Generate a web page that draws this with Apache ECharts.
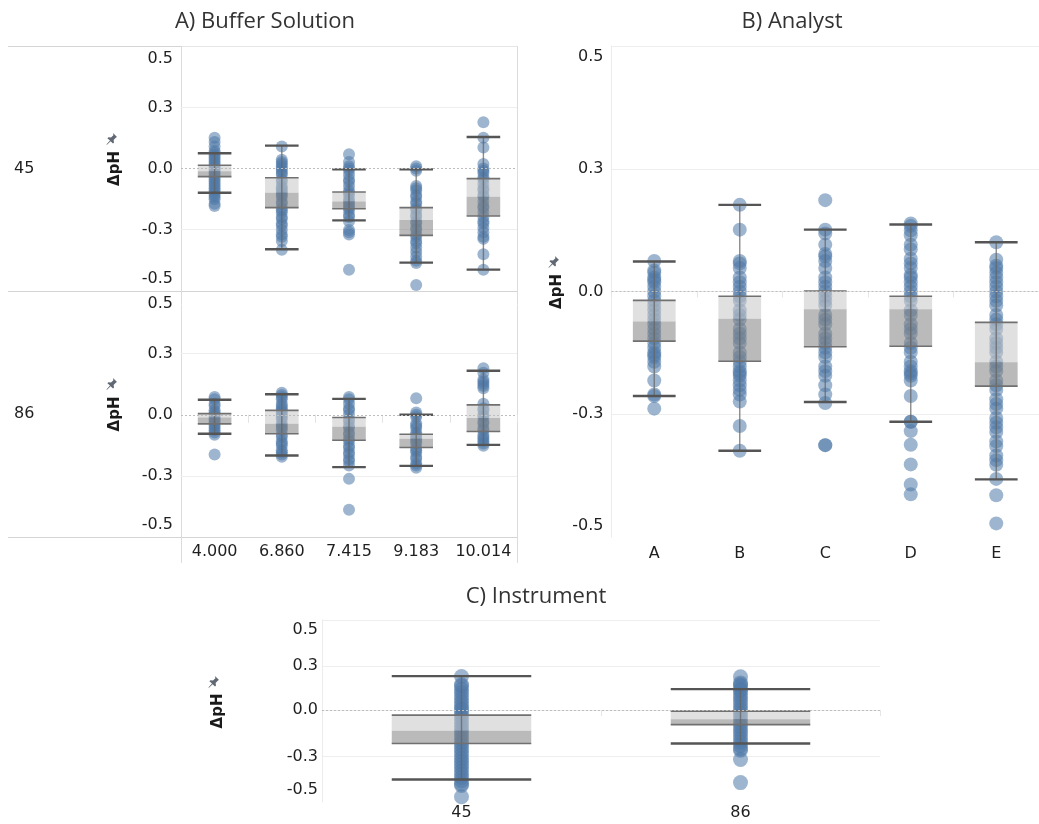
<!DOCTYPE html>
<html>
<head>
<meta charset="utf-8">
<script src="https://cdn.jsdelivr.net/npm/echarts@6/dist/echarts.min.js"></script>
<style>html,body{margin:0;padding:0;background:#fff}#c{width:1039px;height:824px}</style>
</head>
<body>
<div id="c"></div>
<script>
// ---------- categories ----------
const BUFFER_CATS = ['4.000', '6.860', '7.415', '9.183', '10.014'];
const ANALYST_CATS = ['A', 'B', 'C', 'D', 'E'];
const INSTRUMENT_CATS = ['45', '86'];
const ROW_LABELS = ['45', '86'];

// ---------- tick labels (the "0.3" gridlines sit at ~0.27 on the drawn scale) ----------
const TICK_LABELS = ['-0.5', '-0.3', '0.0', '0.3', '0.5'];
const TICK_VALUES_A = [-0.5, -0.277, 0, 0.277, 0.5];
const TICK_VALUES_B = [-0.5, -0.262, 0, 0.262, 0.5];
const TICK_VALUES_C = [-0.5, -0.29, 0, 0.277, 0.5];

// ---------- box statistics: [lower whisker, Q1, median, Q3, upper whisker] ----------
const BUFFER_45_BOX = [
  [-0.110, -0.037, -0.012, 0.015, 0.069],
  [-0.367, -0.178, -0.110, -0.042, 0.104],
  [-0.236, -0.183, -0.150, -0.107, -0.004],
  [-0.428, -0.304, -0.234, -0.178, -0.004],
  [-0.460, -0.216, -0.128, -0.046, 0.143]
];
const BUFFER_86_BOX = [
  [-0.086, -0.041, -0.012, 0.005, 0.068],
  [-0.184, -0.086, -0.041, 0.020, 0.093],
  [-0.237, -0.115, -0.054, -0.012, 0.072],
  [-0.231, -0.148, -0.109, -0.088, 0.000],
  [-0.136, -0.076, -0.015, 0.045, 0.199]
];
const ANALYST_BOX = [
  [-0.223, -0.106, -0.064, -0.019, 0.064],
  [-0.340, -0.149, -0.058, -0.010, 0.185],
  [-0.236, -0.118, -0.038, 0.001, 0.132],
  [-0.278, -0.117, -0.038, -0.010, 0.143],
  [-0.401, -0.202, -0.151, -0.066, 0.105]
];
const INSTRUMENT_BOX = [
  [-0.433, -0.208, -0.129, -0.031, 0.2125],
  [-0.208, -0.090, -0.056, -0.006, 0.131]
];

// ---------- individual ΔpH values ----------
const BUFFER_45_POINTS = [
  [0.14, 0.12, 0.10, 0.08, 0.07, 0.06, 0.05, 0.04, 0.03, 0.02, 0.01, 0.00, -0.01, -0.02, -0.03, -0.04, -0.05, -0.06, -0.07, -0.08, -0.09, -0.10, -0.11, -0.12, -0.13, -0.14, -0.16, -0.17],
  [0.10, 0.04, 0.03, 0.02, 0.01, 0.00, -0.01, -0.02, -0.03, -0.05, -0.06, -0.08, -0.09, -0.10, -0.11, -0.12, -0.13, -0.15, -0.16, -0.18, -0.19, -0.20, -0.22, -0.23, -0.25, -0.26, -0.28, -0.30, -0.31, -0.33, -0.37],
  [0.065, 0.03, 0.01, 0.00, -0.01, -0.03, -0.05, -0.06, -0.08, -0.10, -0.11, -0.12, -0.14, -0.15, -0.16, -0.17, -0.18, -0.19, -0.21, -0.22, -0.24, -0.28, -0.29, -0.30, -0.46],
  [0.01, 0.00, -0.01, -0.08, -0.09, -0.10, -0.12, -0.13, -0.15, -0.16, -0.18, -0.19, -0.21, -0.22, -0.24, -0.25, -0.27, -0.28, -0.30, -0.31, -0.33, -0.34, -0.36, -0.38, -0.40, -0.42, -0.43, -0.53],
  [0.21, 0.14, 0.095, 0.02, 0.00, -0.01, -0.02, -0.04, -0.05, -0.07, -0.09, -0.10, -0.12, -0.13, -0.15, -0.17, -0.18, -0.20, -0.22, -0.24, -0.25, -0.27, -0.29, -0.31, -0.32, -0.39, -0.46]
];
const BUFFER_86_POINTS = [
  [0.08, 0.07, 0.05, 0.04, 0.02, 0.01, 0.00, -0.01, -0.02, -0.03, -0.04, -0.05, -0.06, -0.07, -0.08, -0.09, -0.18],
  [0.10, 0.09, 0.08, 0.07, 0.05, 0.04, 0.03, 0.02, 0.01, 0.00, -0.01, -0.02, -0.04, -0.05, -0.06, -0.07, -0.09, -0.10, -0.12, -0.13, -0.14, -0.16, -0.17, -0.18, -0.19],
  [0.08, 0.07, 0.05, 0.03, 0.02, 0.00, -0.02, -0.03, -0.05, -0.06, -0.08, -0.09, -0.11, -0.12, -0.14, -0.15, -0.17, -0.18, -0.20, -0.21, -0.23, -0.29, -0.43],
  [0.075, 0.01, 0.00, -0.01, -0.04, -0.05, -0.06, -0.08, -0.09, -0.10, -0.11, -0.12, -0.13, -0.15, -0.16, -0.17, -0.19, -0.20, -0.22, -0.23, -0.24],
  [0.21, 0.19, 0.16, 0.15, 0.14, 0.13, 0.12, 0.05, 0.03, 0.02, 0.00, -0.01, -0.03, -0.04, -0.06, -0.07, -0.09, -0.10, -0.11, -0.12, -0.13, -0.14]
];
const ANALYST_POINTS = [
  [0.065, 0.045, 0.04, 0.03, 0.025, 0.02, 0.01, 0.00, -0.01, -0.02, -0.03, -0.04, -0.05, -0.06, -0.07, -0.08, -0.09, -0.10, -0.11, -0.12, -0.13, -0.135, -0.14, -0.15, -0.16, -0.19, -0.22, -0.223, -0.25],
  [0.185, 0.132, 0.065, 0.06, 0.05, 0.03, 0.02, 0.01, 0.00, -0.01, -0.02, -0.04, -0.05, -0.06, -0.08, -0.09, -0.10, -0.11, -0.13, -0.14, -0.15, -0.16, -0.17, -0.175, -0.18, -0.19, -0.20, -0.21, -0.22, -0.235, -0.287, -0.34],
  [0.195, 0.132, 0.124, 0.10, 0.08, 0.075, 0.065, 0.05, 0.03, 0.02, 0.01, 0.00, -0.01, -0.02, -0.03, -0.05, -0.06, -0.07, -0.09, -0.10, -0.11, -0.12, -0.13, -0.14, -0.16, -0.17, -0.18, -0.20, -0.22, -0.238, -0.328, -0.328],
  [0.145, 0.14, 0.13, 0.12, 0.10, 0.09, 0.07, 0.06, 0.05, 0.035, 0.03, 0.02, 0.01, 0.00, -0.01, -0.02, -0.04, -0.05, -0.07, -0.08, -0.09, -0.11, -0.12, -0.13, -0.15, -0.16, -0.17, -0.175, -0.18, -0.19, -0.223, -0.278, -0.278, -0.298, -0.327, -0.369, -0.412, -0.433],
  [0.105, 0.068, 0.055, 0.05, 0.04, 0.03, 0.02, 0.01, 0.00, -0.01, -0.02, -0.03, -0.05, -0.06, -0.07, -0.08, -0.10, -0.11, -0.12, -0.13, -0.15, -0.16, -0.17, -0.19, -0.20, -0.21, -0.23, -0.24, -0.25, -0.27, -0.28, -0.29, -0.30, -0.32, -0.33, -0.35, -0.36, -0.37, -0.40, -0.435, -0.495]
];
const INSTRUMENT_POINTS = [
  [0.21, 0.16, 0.15, 0.13, 0.11, 0.09, 0.07, 0.05, 0.03, 0.01, 0.00, -0.02, -0.04, -0.06, -0.08, -0.10, -0.12, -0.14, -0.16, -0.18, -0.20, -0.22, -0.24, -0.26, -0.28, -0.30, -0.32, -0.34, -0.36, -0.38, -0.40, -0.42, -0.44, -0.46, -0.47, -0.54],
  [0.208, 0.17, 0.16, 0.15, 0.13, 0.12, 0.10, 0.08, 0.06, 0.04, 0.02, 0.00, -0.02, -0.04, -0.06, -0.08, -0.10, -0.12, -0.14, -0.16, -0.18, -0.20, -0.22, -0.24, -0.25, -0.308, -0.452]
];

// ---------- styling ----------
const FONT_UI = "'DejaVu Sans', sans-serif";
const POINT_COLOR = '#4e79a7';
const TEXT_COLOR = '#1f1f1f';

function toPoints(groups) {
  const out = [];
  groups.forEach((vals, i) => vals.forEach(v => out.push([i, v])));
  return out;
}
function toBoxes(boxes) {
  return boxes.map((b, i) => [i].concat(b));
}
function tickFormatter(values) {
  return function (v) {
    const i = values.findIndex(t => Math.abs(t - v) < 1e-6);
    return i >= 0 ? TICK_LABELS[i] : '';
  };
}

function renderBox(params, api) {
  const x = api.value(0);
  const pLow = api.coord([x, api.value(1)]);
  const pQ1 = api.coord([x, api.value(2)]);
  const pMed = api.coord([x, api.value(3)]);
  const pQ3 = api.coord([x, api.value(4)]);
  const pHigh = api.coord([x, api.value(5)]);
  const band = api.size([1, 0])[0];
  const w = band * 0.5;
  const cx = pMed[0];
  const x0 = cx - w / 2, x1 = cx + w / 2;
  return {
    type: 'group',
    children: [
      { type: 'rect', shape: { x: x0, y: pQ3[1], width: w, height: pMed[1] - pQ3[1] },
        style: { fill: 'rgba(200,200,200,0.56)' } },
      { type: 'rect', shape: { x: x0, y: pMed[1], width: w, height: pQ1[1] - pMed[1] },
        style: { fill: 'rgba(130,130,130,0.55)' } },
      { type: 'line', shape: { x1: cx, y1: pHigh[1], x2: cx, y2: pLow[1] },
        style: { stroke: 'rgba(100,100,100,0.75)', lineWidth: 1.4 } },
      { type: 'line', shape: { x1: x0, y1: pQ3[1], x2: x1, y2: pQ3[1] },
        style: { stroke: '#707070', lineWidth: 1.6 } },
      { type: 'line', shape: { x1: x0, y1: pQ1[1], x2: x1, y2: pQ1[1] },
        style: { stroke: '#707070', lineWidth: 1.6 } },
      { type: 'line', shape: { x1: x0, y1: pHigh[1], x2: x1, y2: pHigh[1] },
        style: { stroke: '#555555', lineWidth: 2.4 } },
      { type: 'line', shape: { x1: x0, y1: pLow[1], x2: x1, y2: pLow[1] },
        style: { stroke: '#555555', lineWidth: 2.4 } }
    ]
  };
}

const zeroLine = {
  silent: true, symbol: ['none', 'none'], animation: false,
  label: { show: false },
  lineStyle: { type: [2, 2], color: '#bdbdbd', width: 1 },
  data: [{ yAxis: 0 }]
};

function scatterSeries(idx, groups, size) {
  return {
    type: 'scatter', xAxisIndex: idx, yAxisIndex: idx, z: 2,
    symbolSize: size, data: toPoints(groups),
    itemStyle: { color: POINT_COLOR, opacity: 0.55 },
    markLine: zeroLine, animation: false
  };
}
function boxSeries(idx, boxes) {
  return {
    type: 'custom', xAxisIndex: idx, yAxisIndex: idx, z: 3,
    renderItem: renderBox, data: toBoxes(boxes),
    encode: { x: 0, y: [1, 2, 3, 4, 5] }, animation: false, silent: true
  };
}

function yAxisDef(idx, min, max, tickVals, labelMargin, nameGap, splitExtra, showLine) {
  return {
    gridIndex: idx, type: 'value', min: min, max: max,
    name: 'ΔpH', nameLocation: 'middle', nameRotate: 90, nameGap: nameGap,
    nameTextStyle: { fontFamily: FONT_UI, fontWeight: 'bold', fontSize: 15, color: '#1a1a1a' },
    axisLine: { show: showLine, lineStyle: { color: '#ececec' } },
    axisTick: { show: false, customValues: [tickVals[1], tickVals[3]].concat(splitExtra) },
    splitLine: { show: true, lineStyle: { color: '#eeeeee', width: 1 } },
    axisLabel: {
      customValues: tickVals, formatter: tickFormatter(tickVals), margin: labelMargin,
      fontFamily: FONT_UI, fontSize: 16, color: TEXT_COLOR
    }
  };
}

function xAxisDef(idx, cats, opts) {
  return Object.assign({
    gridIndex: idx, type: 'category', data: cats, boundaryGap: true,
    axisLine: { show: true, lineStyle: { color: '#ececec' } },
    axisTick: { show: true, interval: 0, length: 6, lineStyle: { color: '#e6e6e6' } },
    axisLabel: { interval: 0, fontFamily: FONT_UI, fontSize: 16, color: TEXT_COLOR, margin: 8 },
    splitLine: { show: false }
  }, opts);
}

const PIN_SHAPE = [[7, 0], [11, 4], [10, 4.6], [7.6, 7], [8, 9.6], [7, 10.6], [4.6, 8.2], [1, 11.8], [0.4, 11.4], [4, 7.6], [1.4, 5.2], [2.4, 4.2], [5, 4.6], [7.4, 2.2]];
function pin(x, y) {
  return { type: 'polygon', silent: true,
    shape: { points: PIN_SHAPE.map(p => [x + p[0], y + p[1]]) },
    style: { fill: '#5f6873' } };
}
function hline(x1, x2, y, color) {
  return { type: 'line', shape: { x1: x1, y1: y, x2: x2, y2: y }, style: { stroke: color, lineWidth: 1 }, silent: true };
}
function vline(x, y1, y2, color) {
  return { type: 'line', shape: { x1: x, y1: y1, x2: x, y2: y2 }, style: { stroke: color, lineWidth: 1 }, silent: true };
}
function label(text, x, y, font, align, color) {
  return { type: 'text', silent: true,
    style: { text: text, x: x, y: y, align: align || 'center', verticalAlign: 'middle', font: font, fill: color || '#333' } };
}

const chart = echarts.init(document.getElementById('c'));
chart.setOption({
  animation: false,
  backgroundColor: '#ffffff',
  grid: [
    { left: 181, top: 46, width: 336, height: 245 },
    { left: 181, top: 291, width: 336, height: 246 },
    { left: 611.5, top: 46, width: 439.5, height: 491 },
    { left: 322, top: 620, width: 558, height: 182 }
  ],
  xAxis: [
    xAxisDef(0, BUFFER_CATS, { axisLine: { show: false }, axisTick: { show: false }, axisLabel: { show: false } }),
    xAxisDef(1, BUFFER_CATS, {
      axisLine: { show: false },
      axisTick: { show: true, interval: 0, length: 8, lineStyle: { color: '#e3e3e3' } },
      axisLabel: { interval: 0, fontFamily: FONT_UI, fontSize: 16, color: TEXT_COLOR, margin: 7 }
    }),
    xAxisDef(2, ANALYST_CATS, {
      axisLabel: { interval: 0, fontFamily: FONT_UI, fontSize: 16, color: TEXT_COLOR, margin: 9 }
    }),
    xAxisDef(3, INSTRUMENT_CATS, {
      axisLabel: { interval: 0, fontFamily: FONT_UI, fontSize: 16, color: TEXT_COLOR, margin: 3 }
    })
  ],
  yAxis: [
    yAxisDef(0, -0.557, 0.557, TICK_VALUES_A, 8, 58, [], false),
    yAxisDef(1, -0.553, 0.56, TICK_VALUES_A, 8, 58, [], false),
    yAxisDef(2, -0.524, 0.524, TICK_VALUES_B, 8, 47, [0.524], true),
    yAxisDef(3, -0.573, 0.5625, TICK_VALUES_C, 4, 96, [0.5625], true)
  ],
  series: [
    scatterSeries(0, BUFFER_45_POINTS, 12), boxSeries(0, BUFFER_45_BOX),
    scatterSeries(1, BUFFER_86_POINTS, 12), boxSeries(1, BUFFER_86_BOX),
    scatterSeries(2, ANALYST_POINTS, 14), boxSeries(2, ANALYST_BOX),
    scatterSeries(3, INSTRUMENT_POINTS, 15), boxSeries(3, INSTRUMENT_BOX)
  ],
  graphic: [
    label('A) Buffer Solution', 265, 22, "22px 'Open Sans', sans-serif"),
    label('B) Analyst', 792, 22, "22px 'Open Sans', sans-serif"),
    label('C) Instrument', 536, 597, "22px 'Open Sans', sans-serif"),
    label(ROW_LABELS[0], 14, 169, "16px 'DejaVu Sans', sans-serif", 'left', TEXT_COLOR),
    label(ROW_LABELS[1], 14, 414, "16px 'DejaVu Sans', sans-serif", 'left', TEXT_COLOR),
    hline(8, 181, 46.5, '#d4d4d4'), hline(181, 517, 46.5, '#e6e6e6'),
    hline(8, 517, 291.5, '#d4d4d4'),
    hline(8, 517, 537.5, '#d4d4d4'),
    vline(181.5, 46, 563, '#dcdcdc'),
    vline(517.5, 46, 563, '#dcdcdc'),
    pin(106, 133), pin(106, 378), pin(548, 256), pin(208, 676)
  ]
});
</script>
</body>
</html>
